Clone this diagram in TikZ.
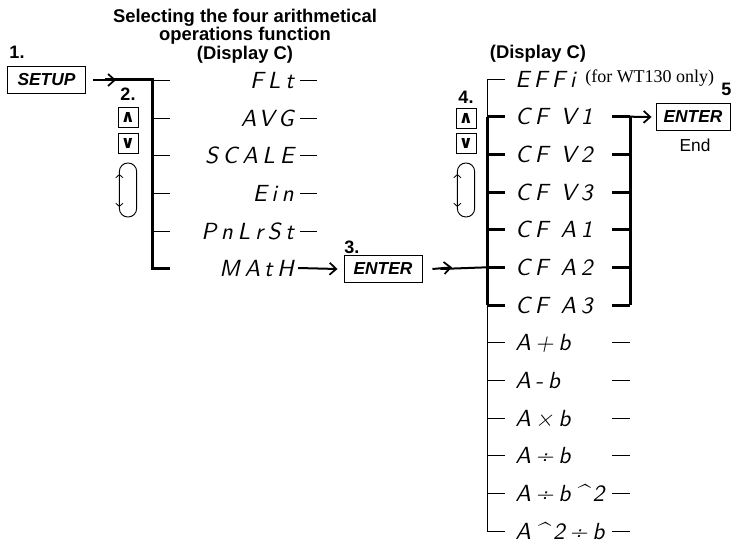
\documentclass[tikz,border=0pt]{standalone}
\usepackage{fontspec}
\setmainfont{Liberation Sans}
\newfontfamily\segfont[LetterSpace=20]{lmsans10-oblique.otf}
\newfontfamily\notefont{Liberation Serif}
\newfontfamily\symfont{DejaVu Sans}
\usetikzlibrary{arrows.meta,calc}
\begin{document}
\begin{tikzpicture}[x=0.75pt,y=-0.75pt,
  seg/.style={font=\segfont\fontsize{17.5}{17.5}\selectfont, inner sep=0pt, text height=12.1pt, text depth=0pt},
  thickln/.style={line width=2.25pt, line join=miter},
  thinln/.style={line width=0.7pt},
  arr/.style={line width=1.5pt, -{Straight Barb[length=5pt,width=9pt,line width=1.3pt]}},
  arrline/.style={line width=1.5pt},
  keybox/.style={draw, line width=0.7pt, font=\bfseries\itshape\fontsize{13}{13}\selectfont, inner sep=0pt, minimum height=20.5pt},
  steplbl/.style={font=\bfseries\fontsize{13.5}{13.5}\selectfont, inner sep=0pt},
  keysym/.style={draw, line width=0.7pt, minimum width=15pt, minimum height=15pt, inner sep=0pt, font=\symfont\bfseries\fontsize{13}{13}\selectfont},
  dial/.style={draw, line width=0.7pt, minimum width=13pt, minimum height=40.5pt, rounded corners=6.4pt, inner sep=0pt},
  dialarrow/.style={line width=0.6pt, {Straight Barb[length=2.5pt,width=5.5pt]}-{Straight Barb[length=2.5pt,width=5.5pt]}},
]
\useasboundingbox[fill=white] (0,0) rectangle (733,542);

% ---------- left part ----------
\node[font=\bfseries\fontsize{13.8}{14}\selectfont, align=center, inner sep=0pt] (title) at (245,36)
  {Selecting the four arithmetical\\operations function\\(Display C)};
\node[steplbl] (s1) at (17,52) {1.};
\node[keybox, minimum width=59pt] (setup) at (46.5,80) {SETUP};
\node[steplbl] (s2) at (128,94) {2.};
\node[keysym] (up1) at (128,117) {∧};
\node[keysym] (dn1) at (128,143) {∨};
\node[dial] (dial1) at (128,190) {};
\draw[dialarrow] ($(dial1.west)+(0.5,-16)$) -- ($(dial1.west)+(0.5,17)$);

\foreach \t/\n/\y in {FLt/l1/80, AVG/l2/118, SCALE/l3/155, Ein/l4/193, PnLrSt/l5/231, MAtH/l6/268}
  \node[seg, anchor=east] (\n) at (294,\y) {\t};
\foreach \n in {l1,l2,l3,l4,l5}
  \draw[thinln] ($(\n.east)+(6,0)$) -- ++(17,0);

\coordinate (ltop) at (152,80);
\coordinate (lbot) at (152,268);
\draw[thickln] ($(ltop)+(-47,0)$) -- (ltop) -- (lbot) -- ++(18,0);
\foreach \y in {80,118,155,193,231}
  \draw[thinln] (152,\y) -- (170,\y);
\draw[arr] ($(setup.east)+(7,0)$) -- ($(ltop)+(-36,0)$);

\node[steplbl, anchor=west] (s3) at (344,247) {3.};
\node[keybox, minimum width=58.5pt] (enter1) at (383,269) {ENTER};
\draw[arr] ($(l6.east)+(4,0)$) -- ($(enter1.west)+(-6,0)$);

% ---------- right part ----------
\node[font=\bfseries\fontsize{13.8}{14}\selectfont, inner sep=0pt] (disp2) at (538,54) {(Display C)};
\node[steplbl] (s4) at (466,97) {4.};
\node[keysym] (up2) at (466,118) {∧};
\node[keysym] (dn2) at (466,143) {∨};
\node[dial] (dial2) at (466,190) {};
\draw[dialarrow] ($(dial2.west)+(0.5,-16)$) -- ($(dial2.west)+(0.5,17)$);

\foreach \t [count=\i] in {EFFi, CF V1, CF V2, CF V3, CF A1, CF A2, CF A3, A+b, A-b, A×b, A÷b, A÷b\textasciicircum 2, A\textasciicircum 2÷b}
  \node[seg, anchor=west] (r\i) at (515,{79+37.667*(\i-1)}) {\t};
\node[font=\notefont\fontsize{13.5}{13.5}\selectfont, anchor=west, inner sep=0pt] (note) at (585,78) {(for WT130 only)};

\coordinate (rtop) at (487,79);
\coordinate (rcf1) at (487,116.7);
\coordinate (rcf6) at (487,305);
\coordinate (rbot) at (487,531);
\coordinate (rj) at (487,267.3);
\draw[thinln] ($(rtop)+(18,0)$) -- (rtop) -- (rcf1);
\draw[thickln] (rcf1) -- (rcf6);
\draw[thinln] (rcf6) -- (rbot);
\foreach \k in {1,...,6}
  \draw[thickln] (487,{79+37.667*\k}) -- (505,{79+37.667*\k})
                 (612,{79+37.667*\k}) -- (630,{79+37.667*\k});
\draw[thickln] (630,116.7) -- (630,305);
\foreach \k in {7,...,12}
  \draw[thinln] (487,{79+37.667*\k}) -- (505,{79+37.667*\k})
                (612,{79+37.667*\k}) -- (630,{79+37.667*\k});
\draw[arrline] ($(enter1.east)+(18,0)$) -- (rj);
\draw[arr] ($(enter1.east)+(10,0)$) -- ($(rj)+(-35,0)$);

\coordinate (rb1) at (630,116.7);
\node[steplbl, anchor=west] (s5) at (721,89) {5};
\node[keybox, minimum width=55.5pt] (enter2) at (693,117) {ENTER};
\node[font=\fontsize{13}{13}\selectfont, inner sep=0pt] (endlbl) at (695,145) {End};
\draw[arr] (rb1) -- ($(enter2.west)+(-4,0)$);
\end{tikzpicture}
\end{document}
